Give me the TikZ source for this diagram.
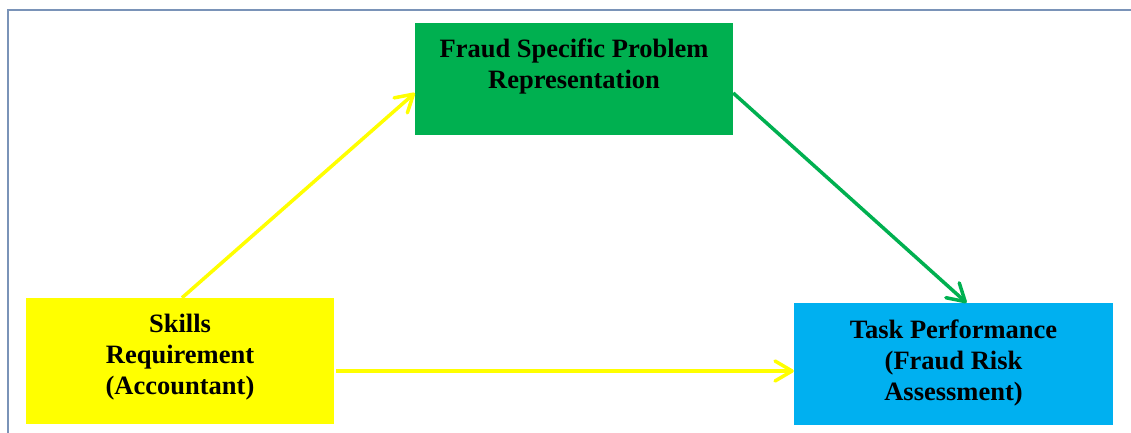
\documentclass[tikz,border=0pt]{standalone}
\usepackage{fontspec}
\setmainfont{Liberation Serif}
\usepackage{xcolor}
\usepackage{tikz}
\usetikzlibrary{positioning,calc,arrows.meta}

\definecolor{frameblue}{HTML}{7A93B8}
\definecolor{repgreen}{HTML}{00B050}
\definecolor{skillyellow}{HTML}{FFFF00}
\definecolor{taskblue}{HTML}{00B0F0}

\begin{document}
\begin{tikzpicture}[x=1pt,y=1pt,
    box/.style={rectangle, inner sep=0pt},
    boxtext/.style={anchor=north, inner sep=0pt, align=center, font=\bfseries\fontsize{26.5}{31}\selectfont},
    link/.style={line width=3.5pt, -{Straight Barb[length=17pt,width=20pt,round]}}]
    \useasboundingbox (0,0) rectangle (1131,433);

    % Frame
    \draw[frameblue, line width=2pt] (8,0) -- (8,423) -- (1131,423);

    % Boxes
    \node[box, fill=repgreen, minimum width=318, minimum height=112] (rep) at (574,354) {};
    \node[box, fill=skillyellow, minimum width=308, minimum height=126] (skills) at (180,72) {};
    \node[box, fill=taskblue, minimum width=319, minimum height=122] (task) at (953.5,69) {};

    % Texts
    \node[boxtext] (repText) at ([yshift=-16]rep.north) {Fraud Specific Problem\\Representation};
    \node[boxtext] (skillsText) at ([yshift=-16]skills.north) {Skills\\Requirement\\(Accountant)};
    \node[boxtext] (taskText) at ([yshift=-17]task.north) {Task Performance\\(Fraud Risk\\Assessment)};

    % Links
    \draw[link, skillyellow] ([xshift=2]skills.north) -- ([yshift=-14]rep.west);
    \draw[link, skillyellow] ([xshift=2,yshift=-10]skills.east) -- ([yshift=-7]task.west);
    \draw[link, repgreen] ([yshift=-14]rep.east) -- ([xshift=13]task.north);
\end{tikzpicture}
\end{document}
